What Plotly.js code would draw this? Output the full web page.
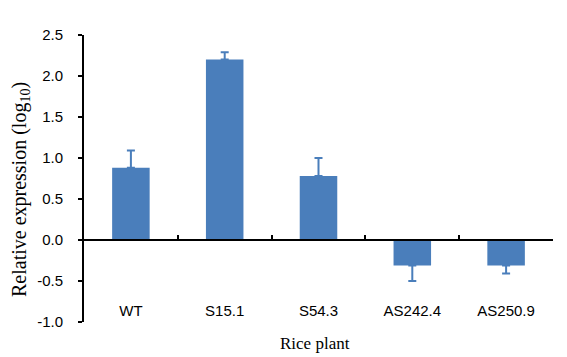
<!DOCTYPE html>
<html>
<head>
<meta charset="utf-8">
<script src="https://cdn.plot.ly/plotly-3.0.1.min.js"></script>
<style>html,body{margin:0;padding:0;background:#fff;}#chart{width:567px;height:357px;}</style>
</head>
<body>
<div id="chart"></div>
<script>
var categories = ["WT", "S15.1", "S54.3", "AS242.4", "AS250.9"];
var values = [0.88, 2.2, 0.78, -0.31, -0.31];
var errors = [0.21, 0.09, 0.22, 0.19, 0.10];
var yTicks = [-1.0, -0.5, 0.0, 0.5, 1.0, 1.5, 2.0, 2.5];
var yTickText = ["-1.0", "-0.5", "0.0", "0.5", "1.0", "1.5", "2.0", "2.5"];
var xTitle = "Rice plant";
var yTitle = "Relative expression (log<sub>10</sub>)";

var yMin = -1.0, yMax = 2.5;
var errUp = values.map(function(v, i){ return v >= 0 ? errors[i] : 0; });
var errDown = values.map(function(v, i){ return v < 0 ? errors[i] : 0; });
var barColor = "#4a7ebb";

var traces = [{
  type: "bar",
  x: categories,
  y: values,
  xaxis: "x",
  yaxis: "y",
  marker: {color: barColor},
  width: 0.4,
  error_y: {type: "data", symmetric: false, array: errUp, arrayminus: errDown,
            color: barColor, thickness: 2, width: 4},
  hoverinfo: "x+y"
}, {
  type: "bar",
  x: categories,
  y: categories.map(function(){ return 0; }),
  xaxis: "x2",
  yaxis: "y",
  marker: {color: "rgba(0,0,0,0)"},
  hoverinfo: "skip",
  showlegend: false
}];

var zeroPos = (0 - yMin) / (yMax - yMin);

var layout = {
  width: 567, height: 357,
  margin: {l: 84, r: 14, t: 35, b: 35},
  paper_bgcolor: "#fff", plot_bgcolor: "#fff",
  showlegend: false,
  bargap: 0.6,
  xaxis: {
    type: "category",
    anchor: "free",
    position: 0.077,
    showline: false, ticks: "", showgrid: false, zeroline: false,
    tickfont: {family: "Liberation Sans, Arial", size: 15, color: "#000"},
    automargin: false
  },
  xaxis2: {
    type: "category",
    overlaying: "x",
    anchor: "free",
    position: zeroPos,
    showline: true, linecolor: "#000", linewidth: 2,
    ticks: "inside", ticklen: 4, tickwidth: 2, tickcolor: "#000",
    tickson: "boundaries",
    showticklabels: false, showgrid: false, zeroline: false
  },
  yaxis: {
    range: [yMin, yMax],
    tickvals: yTicks, ticktext: yTickText,
    showline: true, linecolor: "#000", linewidth: 2,
    ticks: "outside", ticklen: 4, tickwidth: 2, tickcolor: "#000",
    showgrid: false,
    zeroline: false,
    tickfont: {family: "Liberation Sans, Arial", size: 15, color: "#000"},
    ticklabelstandoff: 12,
    automargin: false
  },
  annotations: [{
    text: xTitle, xref: "paper", yref: "paper",
    x: (315 - 84) / 469, y: (322 - 343) / 287,
    xanchor: "center", yanchor: "middle", showarrow: false,
    font: {family: "Liberation Serif, Times New Roman", size: 17, color: "#000"}
  }, {
    text: yTitle, xref: "paper", yref: "paper",
    x: (20 - 84) / 469, y: (322 - 190) / 287,
    xanchor: "center", yanchor: "middle", showarrow: false, textangle: -90,
    font: {family: "Liberation Serif, Times New Roman", size: 20, color: "#000"}
  }]
};

Plotly.newPlot("chart", traces, layout, {displayModeBar: false, staticPlot: true});
</script>
</body>
</html>
